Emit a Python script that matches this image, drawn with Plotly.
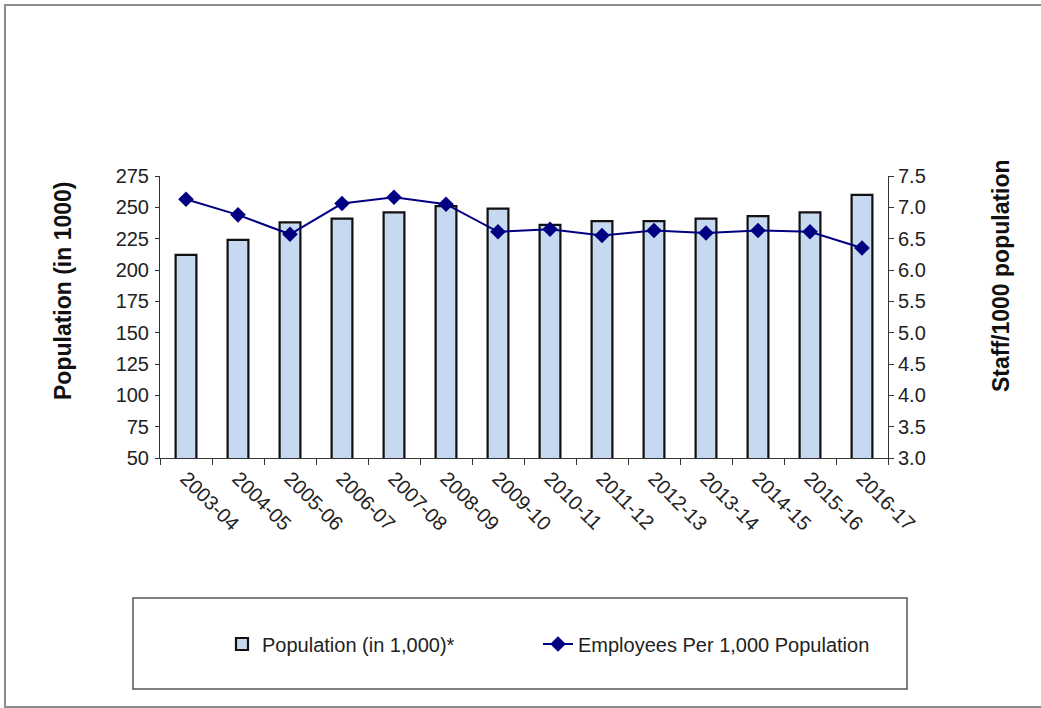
import plotly.graph_objects as go

years = ["2003-04", "2004-05", "2005-06", "2006-07", "2007-08", "2008-09", "2009-10",
         "2010-11", "2011-12", "2012-13", "2013-14", "2014-15", "2015-16", "2016-17"]
population = [212, 224, 238, 241, 246, 251, 249, 236, 239, 239, 241, 243, 246, 260]
employees_per_1000 = [7.13, 6.88, 6.57, 7.06, 7.16, 7.05, 6.61, 6.65, 6.55, 6.63, 6.59, 6.63, 6.61, 6.35]

left_ticks = list(range(50, 276, 25))
right_ticks = [3.0, 3.5, 4.0, 4.5, 5.0, 5.5, 6.0, 6.5, 7.0, 7.5]

W, H = 1041, 708
L, R, T, B = 160, 153, 176, 250
PW, PH = W - L - R, H - T - B

def px(x):
    return (x - L) / PW

def py(y):
    return (H - B - y) / PH

FONT = "Liberation Sans, Arial, sans-serif"
AX = "#333333"

fig = go.Figure()
fig.add_trace(go.Bar(
    x=years, y=population, name="Population (in 1,000)*",
    width=0.4, marker=dict(color="#c6d9f1", line=dict(color="#111111", width=2.2)),
    yaxis="y", legend="legend",
))
fig.add_trace(go.Scatter(
    x=years, y=employees_per_1000, name="Employees Per 1,000 Population",
    mode="lines+markers", line=dict(color="#000080", width=2),
    marker=dict(symbol="diamond", size=12, color="#000080"),
    yaxis="y2", legend="legend2",
))

legend_common = dict(
    orientation="h", yanchor="middle", xanchor="left",
    bgcolor="rgba(0,0,0,0)", borderwidth=0, font=dict(size=20, color="#222222"),
    itemwidth=30,
)

fig.update_layout(
    width=W, height=H,
    margin=dict(l=L, r=R, t=T, b=B, pad=0),
    paper_bgcolor="white", plot_bgcolor="white",
    font=dict(family=FONT, size=20, color="#222222"),
    bargap=0.6,
    xaxis=dict(
        type="category", range=[-0.5, 13.5], tickson="boundaries",
        ticks="outside", ticklen=6, tickcolor=AX, showline=True, linecolor=AX,
        linewidth=1, tickangle=45, showgrid=False, zeroline=False,
        tickfont=dict(size=20),
    ),
    yaxis=dict(
        range=[50, 275], tickvals=left_ticks, ticks="outside", ticklen=4,
        tickcolor=AX, showline=True, linecolor=AX, linewidth=1, showgrid=False,
        zeroline=False, tickfont=dict(size=20), ticklabelstandoff=2,
    ),
    yaxis2=dict(
        range=[3.0, 7.5], tickvals=right_ticks, ticktext=[f"{v:.1f}" for v in right_ticks],
        overlaying="y", side="right", anchor="x", ticks="outside", ticklen=5,
        tickcolor=AX, showline=True, linecolor=AX, linewidth=1, showgrid=False,
        zeroline=False, tickfont=dict(size=20),
    ),
    yaxis3=dict(
        range=[50, 275], tickvals=left_ticks, overlaying="y", side="left", anchor="x",
        ticks="inside", ticklen=4, tickcolor=AX, showticklabels=False,
        showline=False, showgrid=False, zeroline=False,
    ),
    yaxis4=dict(
        range=[3.0, 7.5], tickvals=right_ticks, overlaying="y", side="right", anchor="x",
        ticks="inside", ticklen=5, tickcolor=AX, showticklabels=False,
        showline=False, showgrid=False, zeroline=False,
    ),
    showlegend=True,
    legend=dict(x=px(222), y=py(644), **legend_common),
    legend2=dict(x=px(538), y=py(644), **legend_common),
    shapes=[
        dict(type="rect", xref="paper", yref="paper",
             x0=px(133), x1=px(907), y0=py(689), y1=py(598),
             line=dict(color="#555555", width=1.5), fillcolor="rgba(0,0,0,0)", layer="below"),
        dict(type="rect", xref="paper", yref="paper",
             x0=px(5), x1=px(1045), y0=py(707), y1=py(5),
             line=dict(color="#8a8a8a", width=2), fillcolor="rgba(0,0,0,0)", layer="below"),
    ],
    annotations=[
        dict(text="<b>Population (in 1000)</b>", xref="paper", yref="paper",
             x=px(63), y=py(291), textangle=-90, showarrow=False,
             font=dict(size=23, color="#111111"), xanchor="center", yanchor="middle"),
        dict(text="<b>Staff/1000 population</b>", xref="paper", yref="paper",
             x=px(1001), y=py(275), textangle=-90, showarrow=False,
             font=dict(size=23, color="#111111"), xanchor="center", yanchor="middle"),
    ],
)

fig.write_html("out.html")
